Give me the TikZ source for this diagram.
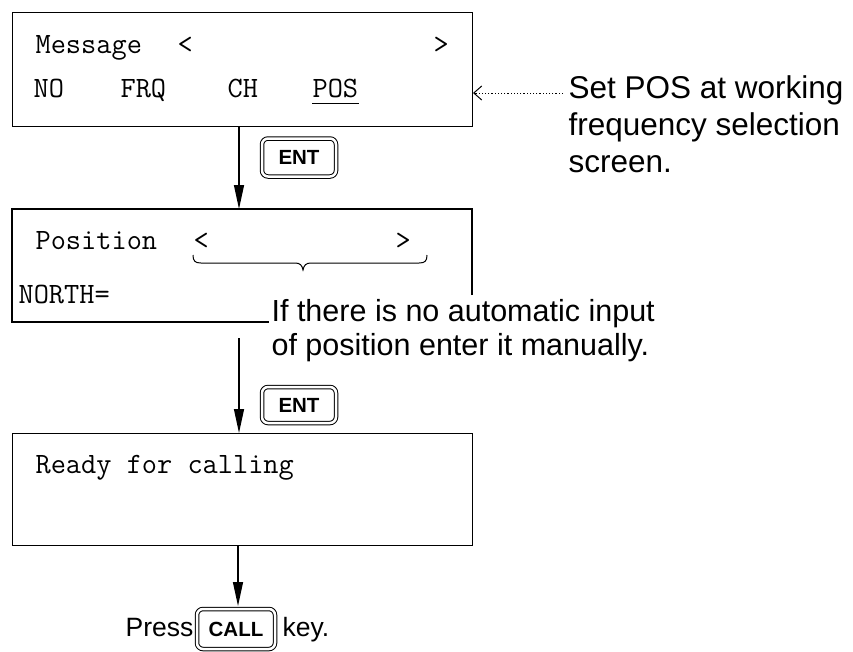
\documentclass[tikz,border=0pt]{standalone}
\usepackage{fontspec}
\setmainfont{Liberation Sans}
\usetikzlibrary{arrows.meta,calc}
\begin{document}
\begin{tikzpicture}[x=1pt,y=-1pt,
  line width=1.2pt,
  mono/.style={font=\ttfamily\fontsize{29.5}{35}\selectfont, inner sep=0pt, anchor=base west},
  note/.style={font=\fontsize{31.5}{37}\selectfont, inner sep=0pt, anchor=base west},
  mid note/.style={font=\fontsize{30.5}{36}\selectfont, inner sep=0pt, anchor=base west},
  small note/.style={font=\fontsize{26.5}{32}\selectfont, inner sep=0pt, anchor=base west},
  screen/.style={draw, line width=1.2pt, minimum width=460pt, inner sep=0pt, anchor=north west},
  keycap/.style={draw, rounded corners=6pt, minimum width=74pt, minimum height=36pt, inner sep=0pt,
     font=\bfseries\fontsize{20.5}{24}\selectfont, line width=1pt, double=white, double distance=2.5pt},
  arr/.style={-{Triangle[length=24pt,width=10pt]}, line width=1.3pt},
  dotarr/.style={-{Straight Barb[length=8pt,width=14pt]}, dash pattern=on 1.2pt off 2pt, line width=1pt}]
\useasboundingbox (0,0) rectangle (853,651);

% Screen 1
\node[screen, minimum height=114pt] (box1) at (12,12) {};
\node[mono] (m1) at (35,53) {Message};
\node[mono] (m1l) at (177,53) {<};
\node[mono] (m1r) at (433,53) {>};
\node[mono] (no) at (33,97) {NO};
\node[mono] (frq) at (120,97) {FRQ};
\node[mono] (ch) at (227,97) {CH};
\node[mono] (pos) at (312,97) {POS};
\draw[line width=1pt] ($(pos.base west)+(0,6)$) coordinate (ul1) -- ($(pos.base east)+(0,6)$) coordinate (ul2);

% note 1
\node[note] (n1a) at (568,98) {Set POS at working};
\node[note] (n1b) at (568,135) {frequency selection};
\node[note] (n1c) at (568,172) {screen.};
\coordinate (d1s) at (563,93);
\coordinate (d1e) at (473,93);
\draw[dotarr] (d1s) -- (d1e);

% arrow 1 and ENT key
\coordinate (a1s) at (239,126);
\coordinate (a1e) at (239,209);
\draw[arr] (a1s) -- (a1e);
\node[keycap, minimum height=38pt] (ent1) at (299,157.5) {ENT};

% Screen 2 (open shape)
\coordinate (b2a) at (472,295);
\coordinate (b2b) at (472,209);
\coordinate (b2c) at (12,209);
\coordinate (b2d) at (12,322);
\coordinate (b2e) at (269,322);
\draw (b2a) -- (b2b) -- (b2c) -- (b2d) -- (b2e);
\node[mono] (p1) at (35,249) {Position};
\node[mono] (p1l) at (193,249) {<};
\node[mono] (p1r) at (395,249) {>};
\draw[line width=1pt] (193,255) .. controls (193,261) and (195,263) .. (201,263) -- (295,263)
   .. controls (300,263) and (302,265) .. (303,270)
   .. controls (304,265) and (306,263) .. (311,263) -- (419,263)
   .. controls (425,263) and (427,261) .. (427,255);
\node[mono] (north) at (18,303) {NORTH=};

% note 2
\node[mid note] (n2a) at (271,321) {If there is no automatic input};
\node[mid note] (n2b) at (271,355) {of position enter it manually.};

% arrow 2 and ENT key
\coordinate (a2s) at (239,338);
\coordinate (a2e) at (239,433);
\draw[arr] (a2s) -- (a2e);
\node[keycap] (ent2) at (299,405) {ENT};

% Screen 3
\node[screen, minimum height=112pt] (box3) at (12,433) {};
\node[mono] (r1) at (35,473) {Ready for calling};

% arrow 3 and CALL key
\coordinate (a3e) at (238,606);
\draw[arr] (box3.south -| a3e) -- (a3e);
\node[small note] (press) at (125,636) {Press};
\node[keycap, minimum width=78pt, minimum height=40pt] (call) at (236,629) {CALL};
\node[small note] (key) at (282,636) {key.};
\end{tikzpicture}
\end{document}
